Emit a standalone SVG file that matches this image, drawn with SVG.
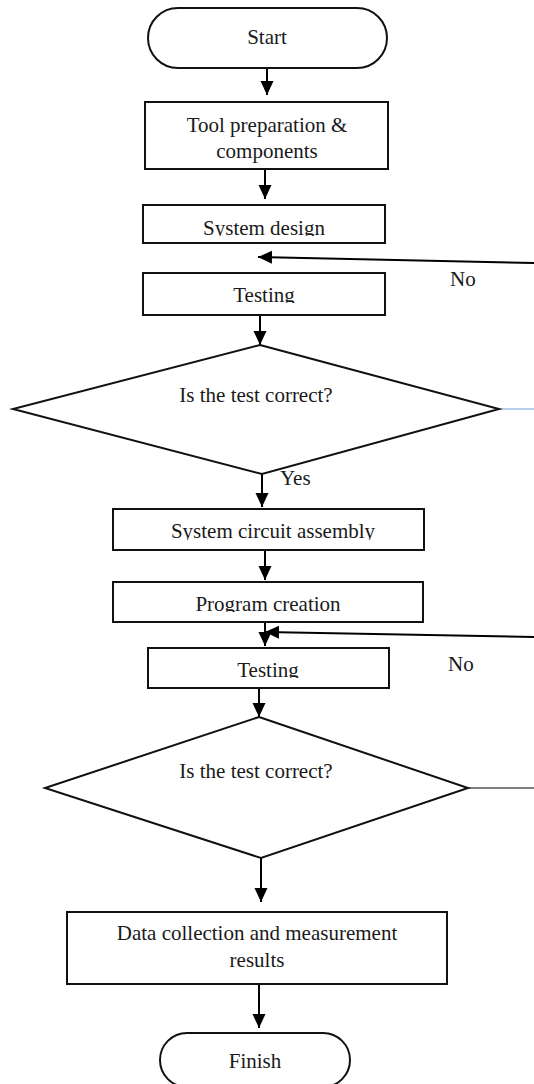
<svg xmlns="http://www.w3.org/2000/svg" width="534" height="1084" viewBox="0 0 534 1084">
<style>
.box{fill:#fff;stroke:#111;stroke-width:2}
.t{font-family:"Liberation Serif","Times New Roman",serif;font-size:21px;fill:#1a1a1a;text-anchor:middle}
.lbl{font-family:"Liberation Serif","Times New Roman",serif;font-size:21px;fill:#1a1a1a}
.c{stroke:#000;stroke-width:2;fill:none}
</style>
<defs>
<marker id="ah" markerUnits="userSpaceOnUse" markerWidth="15" markerHeight="14" refX="14" refY="6.5" orient="auto">
<path d="M0,0 L14,6.5 L0,13 z" fill="#000"/>
</marker>
<clipPath id="cp1"><rect x="143" y="205" width="242" height="31"/></clipPath>
<clipPath id="cp2"><rect x="143" y="273" width="242" height="30"/></clipPath>
<clipPath id="cp3"><rect x="113" y="509" width="311" height="31"/></clipPath>
<clipPath id="cp4"><rect x="113" y="582" width="310" height="30"/></clipPath>
<clipPath id="cp5"><rect x="148" y="648" width="241" height="30"/></clipPath>
</defs>

<g id="connectors">
<line class="c" x1="267" y1="68" x2="267" y2="95" marker-end="url(#ah)"/>
<line class="c" x1="265" y1="169" x2="265" y2="199" marker-end="url(#ah)"/>
<line class="c" x1="534" y1="263" x2="258" y2="257" marker-end="url(#ah)"/>
<line class="c" x1="260" y1="315" x2="260" y2="345" marker-end="url(#ah)"/>
<line x1="499" y1="409" x2="534" y2="409" stroke="#6f9fd6" stroke-width="1.2"/>
<line class="c" x1="262" y1="474" x2="262" y2="507" marker-end="url(#ah)"/>
<line class="c" x1="265" y1="550" x2="265" y2="580" marker-end="url(#ah)"/>
<line class="c" x1="265" y1="622" x2="265" y2="646" marker-end="url(#ah)"/>
<line class="c" x1="534" y1="637" x2="265" y2="632" marker-end="url(#ah)"/>
<line class="c" x1="259" y1="688" x2="259" y2="717" marker-end="url(#ah)"/>
<line x1="468" y1="788" x2="534" y2="788" stroke="#555" stroke-width="1.5"/>
<line class="c" x1="261" y1="858" x2="261" y2="902" marker-end="url(#ah)"/>
<line class="c" x1="259" y1="984" x2="259" y2="1028" marker-end="url(#ah)"/>
<text class="lbl" x="280" y="485">Yes</text>
<text class="lbl" x="450" y="286">No</text>
<text class="lbl" x="448" y="671">No</text>
</g>

<g id="start">
<rect class="box" x="148" y="8" width="239" height="60" rx="30"/>
<text class="t" x="267" y="44">Start</text>
</g>
<g id="tool-preparation">
<rect class="box" x="145" y="102" width="243" height="67"/>
<text class="t" x="267" y="132">Tool preparation &amp;</text>
<text class="t" x="267" y="158">components</text>
</g>
<g id="system-design">
<rect class="box" x="143" y="205" width="242" height="38"/>
<text class="t" x="264" y="235" clip-path="url(#cp1)">System design</text>
</g>
<g id="testing-1">
<rect class="box" x="143" y="273" width="242" height="42"/>
<text class="t" x="264" y="302" clip-path="url(#cp2)">Testing</text>
</g>
<g id="decision-1">
<polygon class="box" points="260,345 499,409 262,474 13,409"/>
<text class="t" x="256" y="402">Is the test correct?</text>
</g>
<g id="system-circuit-assembly">
<rect class="box" x="113" y="509" width="311" height="41"/>
<text class="t" x="273" y="538" clip-path="url(#cp3)">System circuit assembly</text>
</g>
<g id="program-creation">
<rect class="box" x="113" y="582" width="310" height="40"/>
<text class="t" x="268" y="611" clip-path="url(#cp4)">Program creation</text>
</g>
<g id="testing-2">
<rect class="box" x="148" y="648" width="241" height="40"/>
<text class="t" x="268" y="677" clip-path="url(#cp5)">Testing</text>
</g>
<g id="decision-2">
<polygon class="box" points="259,717 468,788 261,858 45,788"/>
<text class="t" x="256" y="778">Is the test correct?</text>
</g>
<g id="data-collection">
<rect class="box" x="67" y="912" width="380" height="72"/>
<text class="t" x="257" y="940">Data collection and measurement</text>
<text class="t" x="257" y="967">results</text>
</g>
<g id="finish">
<rect class="box" x="160" y="1033" width="190" height="54" rx="27"/>
<text class="t" x="255" y="1068">Finish</text>
</g>
</svg>
